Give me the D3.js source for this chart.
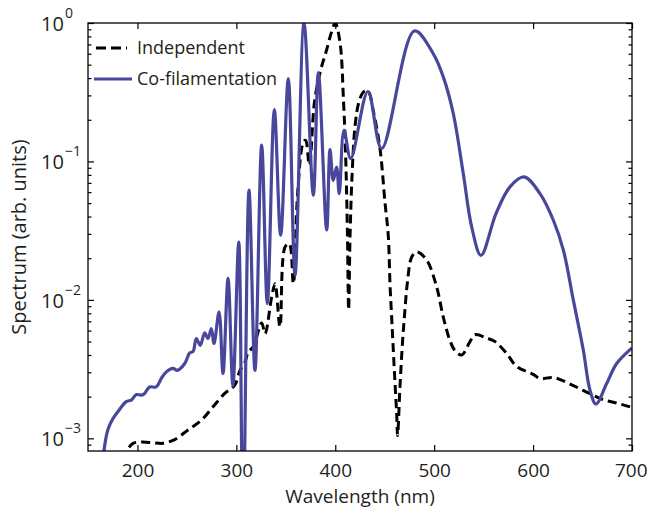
<!DOCTYPE html>
<html><head><meta charset="utf-8">
<script src="https://cdn.jsdelivr.net/npm/d3@7"></script>
<style>body{margin:0;background:#fff}svg text{font-family:"Open Sans",sans-serif;fill:#231f20}</style>
</head><body><svg id="c" width="648" height="511"></svg>
<script>
const xTicks=[200,300,400,500,600,700];
const yMajor=[1e-3,1e-2,1e-1,1];
const yExp=["\u22123","\u22122","\u22121","0"];
const seriesNames=["Independent","Co-filamentation"];

const wlCo=[166,170,175,180,188.7,193.8,198.8,203.9,207,212.3,219,224,229.2,235.9,240.3,247.8,252.8,256.2,259.5,263.5,268,271.3,274.7,277.4,282.5,286.5,291.6,296.5,302.4,306.7,312.8,318.8,325.6,331.3,338.4,344.8,352.5,359.3,368.4,377.8,382.9,391.3,394.7,397.9,401.3,404,408.8,415.6,433,446.9,480,499.1,509.2,519.3,529.4,537.9,547.3,562.5,576.6,590.8,607,620.5,630.6,640.7,650.8,657.5,663.6,674.4,684.5,700];
const valCo=[0.0008,0.00115,0.00138,0.00155,0.00184,0.00189,0.00207,0.00205,0.0021,0.00235,0.00235,0.0027,0.00302,0.0032,0.0031,0.00347,0.00414,0.00424,0.00526,0.0047,0.00578,0.00526,0.00621,0.00484,0.00819,0.00294,0.0143,0.0024,0.0262,0.0002,0.062,0.0031,0.131,0.0094,0.237,0.0293,0.397,0.0151,1.0,0.057,0.438,0.032,0.122,0.073,0.091,0.0586,0.168,0.105,0.32,0.124,0.875,0.60,0.408,0.222,0.0818,0.0337,0.021,0.042,0.0655,0.0773,0.0586,0.0376,0.0229,0.00995,0.00433,0.00223,0.00177,0.00249,0.00347,0.0045];

const wlInd=[185,190,195.5,203.9,215.7,225.8,237.6,251.1,264.5,276.4,288.2,298.3,303.7,308.4,312.1,317.1,325.6,329,335.7,339.1,344.1,349.2,353.5,357.6,362,367.7,370,373.8,379,385,391,396,400,404.9,408.3,410.5,412.3,413.5,415,417,420,424,429,433.4,438,445.2,450.2,453.6,455.3,457,458.7,460.4,462.1,463,465.4,468.1,470.4,472.8,477.3,482.3,492.4,502.5,509.2,515.9,521,527.8,536.2,541.3,553.1,561.5,573.3,583.4,600.2,607,620.5,640.7,657.5,671,684.5,700];
const valInd=[0.0007,0.00083,0.00092,0.00094,0.00093,0.00092,0.00098,0.00115,0.00135,0.00169,0.00211,0.00242,0.0031,0.0035,0.0042,0.0046,0.0068,0.0057,0.0105,0.0131,0.0064,0.0241,0.0255,0.0131,0.06,0.138,0.142,0.094,0.27,0.45,0.63,0.85,1.0,0.71,0.277,0.11,0.03,0.0085,0.03,0.08,0.18,0.27,0.32,0.32,0.24,0.124,0.051,0.029,0.0131,0.0075,0.0043,0.0025,0.0015,0.00105,0.00235,0.0051,0.0084,0.0131,0.0204,0.0222,0.0194,0.0124,0.0075,0.0051,0.0043,0.004,0.005,0.0056,0.0053,0.005,0.0041,0.0033,0.0029,0.0027,0.00275,0.0024,0.0021,0.0019,0.0018,0.00167];

const svg=d3.select("#c");
const L=88,R=632,T=23,B=451;
const x=d3.scaleLinear().domain([150,700]).range([L,R]);
const y=d3.scaleLog().domain([8.1e-4,1]).range([B,T]);
const blue="#48479b";

svg.append("defs").append("clipPath").attr("id","clip").append("rect")
  .attr("x",L).attr("y",T).attr("width",R-L).attr("height",B-T);

const line=d3.line().x(d=>x(d[0])).y(d=>y(d[1])).curve(d3.curveCatmullRom.alpha(0.5));
const ind=wlInd.map((w,i)=>[w,valInd[i]]);
const co=wlCo.map((w,i)=>[w,valCo[i]]);

const g=svg.append("g").attr("clip-path","url(#clip)");
g.append("path").attr("d",line(ind)).attr("fill","none").attr("stroke","#000").attr("stroke-width",3).attr("stroke-dasharray","9,5");
g.append("path").attr("d",line(co)).attr("fill","none").attr("stroke",blue).attr("stroke-width",3.2);

const minor=[];
for(let e=-4;e<=0;e++)for(let k=2;k<=9;k++){const v=k*Math.pow(10,e);if(v>=8.1e-4&&v<1)minor.push(v);}

function styleAxis(a){a.select(".domain").remove();a.selectAll("line").attr("stroke","#000").attr("stroke-width",1.2);}
const xb=svg.append("g").attr("transform",`translate(0,${B})`).call(d3.axisBottom(x).tickValues(xTicks).tickSize(-6).tickPadding(13).tickFormat(d3.format("d")));
xb.selectAll("text").attr("font-size",19).attr("font-family","Open Sans");
xb.selectAll(".tick").filter(d=>d===700).select("text").attr("text-anchor","end").attr("dx",15);
styleAxis(xb);
const xt=svg.append("g").attr("transform",`translate(0,${T})`).call(d3.axisTop(x).tickValues(xTicks).tickSize(-6).tickFormat(""));
styleAxis(xt);
const yl=svg.append("g").attr("transform",`translate(${L},0)`).call(d3.axisLeft(y).tickValues(yMajor).tickSize(-6).tickFormat(""));
styleAxis(yl);
const yl2=svg.append("g").attr("transform",`translate(${L},0)`).call(d3.axisLeft(y).tickValues(minor).tickSize(-3.5).tickFormat(""));
styleAxis(yl2);
const yr=svg.append("g").attr("transform",`translate(${R},0)`).call(d3.axisRight(y).tickValues(yMajor).tickSize(-6).tickFormat(""));
styleAxis(yr);
const yr2=svg.append("g").attr("transform",`translate(${R},0)`).call(d3.axisRight(y).tickValues(minor).tickSize(-3.5).tickFormat(""));
styleAxis(yr2);

svg.append("rect").attr("x",L).attr("y",T).attr("width",R-L).attr("height",B-T).attr("fill","none").attr("stroke","#000").attr("stroke-width",1.3);

yMajor.forEach((v,i)=>{
  const t=svg.append("text").attr("x",41).attr("y",y(v)+8).attr("font-size",20);
  t.append("tspan").text("10");
  t.append("tspan").attr("dy",-13).attr("dx",1).attr("font-size",14).text(yExp[i]);
});

svg.append("text").attr("x",(L+R)/2).attr("y",503).attr("text-anchor","middle").attr("font-size",19).text("Wavelength (nm)");
svg.append("text").attr("transform","translate(26,237) rotate(-90)").attr("text-anchor","middle").attr("font-size",20).text("Spectrum (arb. units)");

const lg=svg.append("g");
lg.append("line").attr("x1",96).attr("x2",127).attr("y1",48).attr("y2",48).attr("stroke","#000").attr("stroke-width",3).attr("stroke-dasharray","10,5");
lg.append("text").attr("x",137).attr("y",54).attr("font-size",18).text(seriesNames[0]);
lg.append("line").attr("x1",94).attr("x2",132).attr("y1",79).attr("y2",79).attr("stroke",blue).attr("stroke-width",3.2);
lg.append("text").attr("x",137).attr("y",85).attr("font-size",18).text(seriesNames[1]);
</script></body></html>
